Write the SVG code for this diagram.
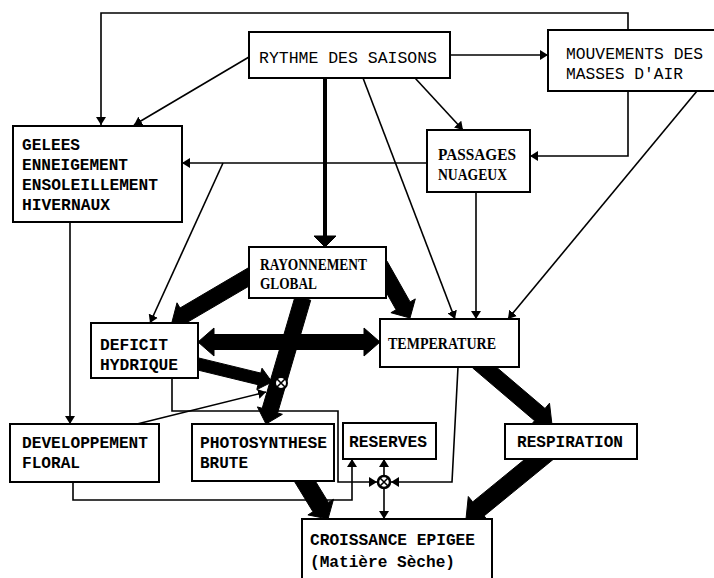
<svg xmlns="http://www.w3.org/2000/svg" width="714" height="578" viewBox="0 0 714 578">
<style>
.box{fill:#fff;stroke:#000;stroke-width:2}
.ln{fill:none;stroke:#000;stroke-width:1.6}
.thick{fill:#000;stroke:#000;stroke-width:1;stroke-linejoin:round}
.mono{font-family:"Liberation Mono","DejaVu Sans Mono",monospace;font-size:16px;fill:#000}
.monob{font-family:"Liberation Mono","DejaVu Sans Mono",monospace;font-size:16px;font-weight:bold;fill:#000}
.serif{font-family:"Liberation Serif","DejaVu Serif",serif;font-size:17px;font-weight:bold;fill:#000}
</style>
<defs>
<marker id="ah" viewBox="0 0 8 10" refX="8" refY="5" markerWidth="8" markerHeight="10" markerUnits="userSpaceOnUse" orient="auto">
<path d="M0,0 L8,5 L0,10 z" fill="#000"/>
</marker>
</defs>
<rect width="714" height="578" fill="#fff"/>
<g id="connectors">
<polyline class="ln" points="628,30 628,13 101,13 101,125" marker-end="url(#ah)"/>
<line class="ln" x1="249" y1="57" x2="134" y2="125" marker-end="url(#ah)"/>
<line class="ln" x1="450" y1="55" x2="548" y2="55" marker-end="url(#ah)"/>
<line class="ln" x1="415" y1="78" x2="463" y2="130" marker-end="url(#ah)"/>
<line class="ln" x1="363" y1="78" x2="455" y2="319" marker-end="url(#ah)"/>
<line class="ln" x1="476" y1="192" x2="476" y2="319" marker-end="url(#ah)"/>
<line class="ln" x1="697" y1="91" x2="508" y2="319" marker-end="url(#ah)"/>
<polyline class="ln" points="628,91 628,156 530,156" marker-end="url(#ah)"/>
<line class="ln" x1="427" y1="163" x2="182" y2="163" marker-end="url(#ah)"/>
<line class="ln" x1="223" y1="163" x2="150" y2="323" marker-end="url(#ah)"/>
<line class="ln" x1="70" y1="222" x2="70" y2="424" marker-end="url(#ah)"/>
<line class="ln" x1="137" y1="424" x2="266" y2="392" marker-end="url(#ah)"/>
<polyline class="ln" points="172,378 172,411 338,411 338,482 377,482" marker-end="url(#ah)"/>
<polyline class="ln" points="458,367 452,482 391,482" marker-end="url(#ah)"/>
<line class="ln" x1="384" y1="476" x2="384" y2="459" marker-end="url(#ah)"/>
<line class="ln" x1="384" y1="488" x2="384" y2="519" marker-end="url(#ah)"/>
<polyline class="ln" points="73,482 73,500 352,500 352,459" marker-end="url(#ah)"/>
<line x1="325" y1="78" x2="325" y2="238" stroke="#000" stroke-width="4"/>
<polygon class="thick" points="314,236 336,236 325,247"/>
<polygon class="thick" points="248,268 180,308 177,302.8 172,322 191.2,327 188.1,321.8 256,282"/>
<polygon class="thick" points="373,268.9 396.1,309.8 390.9,312.7 410,318 415.3,298.9 410.1,301.9 387,261.1"/>
<polygon class="thick" points="198,342 214,328 214,334.5 364,334.5 364,328 380,342 364,356 364,349.5 214,349.5 214,356"/>
<polygon class="thick" points="295.3,295.7 262.2,408.3 257.4,406.9 266,424 282.4,414.3 277.6,412.9 310.7,300.3"/>
<polygon class="thick" points="188.6,367.8 258,384.7 256.8,389.6 272,382 262,368.2 260.8,373.1 191.4,356.2"/>
<polygon class="thick" points="290.3,474.7 313,511.8 307.9,514.9 328,519 333.5,499.3 328.4,502.4 305.7,465.3"/>
<polygon class="thick" points="472.8,368.1 534.6,420.7 530.1,426 552,425 549.5,403.2 545,408.5 483.2,355.9"/>
<polygon class="thick" points="542.3,445 472.7,501.9 468.3,496.5 466,519 488.5,521.3 484.1,515.9 553.7,459"/>
<g id="mult1">
<circle cx="281" cy="383" r="6" fill="#fff" stroke="#000" stroke-width="2"/>
<path d="M277,379 L285,387 M285,379 L277,387" stroke="#000" stroke-width="1.6"/>
</g>
<g id="mult2">
<circle cx="384" cy="482" r="6" fill="#fff" stroke="#000" stroke-width="2.5"/>
<path d="M380,478 L388,486 M388,478 L380,486" stroke="#000" stroke-width="1.6"/>
</g>
</g>
<g id="rythme">
<rect class="box" x="249" y="32" width="201" height="46"/>
<text class="mono" x="259" y="63" textLength="178" lengthAdjust="spacingAndGlyphs">RYTHME DES SAISONS</text>
</g>
<g id="mouvements">
<rect class="box" x="548" y="30" width="180" height="61"/>
<text class="mono" x="566" y="59" textLength="137" lengthAdjust="spacingAndGlyphs">MOUVEMENTS DES</text>
<text class="mono" x="566" y="79" textLength="117" lengthAdjust="spacingAndGlyphs">MASSES D'AIR</text>
</g>
<g id="gelees">
<rect class="box" x="13" y="126" width="169" height="96"/>
<text class="monob" x="22" y="150" textLength="58" lengthAdjust="spacingAndGlyphs">GELEES</text>
<text class="monob" x="22" y="170" textLength="106" lengthAdjust="spacingAndGlyphs">ENNEIGEMENT</text>
<text class="monob" x="22" y="190" textLength="136" lengthAdjust="spacingAndGlyphs">ENSOLEILLEMENT</text>
<text class="monob" x="22" y="210" textLength="88" lengthAdjust="spacingAndGlyphs">HIVERNAUX</text>
</g>
<g id="passages">
<rect class="box" x="427" y="130" width="103" height="62"/>
<text class="serif" x="438" y="160" textLength="78" lengthAdjust="spacingAndGlyphs">PASSAGES</text>
<text class="serif" x="438" y="180" textLength="69" lengthAdjust="spacingAndGlyphs">NUAGEUX</text>
</g>
<g id="rayonnement">
<rect class="box" x="249" y="247" width="137" height="51"/>
<text class="serif" x="260" y="270" textLength="107" lengthAdjust="spacingAndGlyphs">RAYONNEMENT</text>
<text class="serif" x="260" y="289" textLength="57" lengthAdjust="spacingAndGlyphs">GLOBAL</text>
</g>
<g id="deficit">
<rect class="box" x="91" y="323" width="107" height="55"/>
<text class="monob" x="100" y="350" textLength="68" lengthAdjust="spacingAndGlyphs">DEFICIT</text>
<text class="monob" x="100" y="370" textLength="78" lengthAdjust="spacingAndGlyphs">HYDRIQUE</text>
</g>
<g id="temperature">
<rect class="box" x="380" y="319" width="139" height="48"/>
<text class="serif" x="388" y="349" textLength="108" lengthAdjust="spacingAndGlyphs" font-weight="normal">TEMPERATURE</text>
</g>
<g id="developpement">
<rect class="box" x="10" y="424" width="149" height="58"/>
<text class="monob" x="22" y="448" textLength="126" lengthAdjust="spacingAndGlyphs">DEVELOPPEMENT</text>
<text class="monob" x="22" y="468" textLength="58" lengthAdjust="spacingAndGlyphs">FLORAL</text>
</g>
<g id="photosynthese">
<rect class="box" x="192" y="424" width="142" height="57"/>
<text class="monob" x="200" y="448" textLength="127" lengthAdjust="spacingAndGlyphs">PHOTOSYNTHESE</text>
<text class="monob" x="200" y="468" textLength="48" lengthAdjust="spacingAndGlyphs">BRUTE</text>
</g>
<g id="reserves">
<rect class="box" x="343" y="423" width="93" height="36"/>
<text class="monob" x="349" y="447" textLength="78" lengthAdjust="spacingAndGlyphs">RESERVES</text>
</g>
<g id="respiration">
<rect class="box" x="505" y="424" width="132" height="35"/>
<text class="monob" x="517" y="447" textLength="106" lengthAdjust="spacingAndGlyphs">RESPIRATION</text>
</g>
<g id="croissance">
<rect class="box" x="302" y="519" width="190" height="70"/>
<text class="monob" x="310" y="545" textLength="165" lengthAdjust="spacingAndGlyphs">CROISSANCE EPIGEE</text>
<text class="monob" x="310" y="567" textLength="145" lengthAdjust="spacingAndGlyphs">(Matière Sèche)</text>
</g>
</svg>
